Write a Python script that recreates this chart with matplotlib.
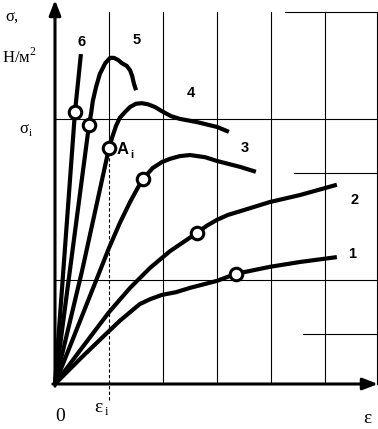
import numpy as np
import matplotlib.pyplot as plt

plt.rcParams['font.family'] = 'Liberation Serif'
plt.rcParams['mathtext.fontset'] = 'custom'
plt.rcParams['mathtext.rm'] = 'Liberation Serif'

# --- data (one grid cell = 1 unit of strain / stress) ---
c1_x = [0, 0.5, 1.0, 1.2, 1.39, 1.57, 1.76, 1.98, 2.24, 2.5, 3.0, 3.35, 3.98, 4.54, 5.22]
c1_y = [0, 0.5, 0.98, 1.17, 1.33, 1.48, 1.57, 1.65, 1.70, 1.78, 1.91, 2.04, 2.17, 2.26, 2.35]

c2_x = [0, 0.5, 1.0, 1.39, 1.76, 2.13, 2.41, 2.63, 2.81, 3.0, 3.2, 3.43, 3.98, 4.54, 5.22]
c2_y = [0, 0.67, 1.33, 1.78, 2.15, 2.46, 2.65, 2.80, 2.93, 3.04, 3.13, 3.20, 3.37, 3.50, 3.69]

c3_x = [0, 0.83, 1.0, 1.2, 1.39, 1.52, 1.63, 1.81, 1.98, 2.13, 2.31, 2.5, 2.78, 3.0, 3.43, 3.72]
c3_y = [0, 2.09, 2.52, 2.98, 3.37, 3.61, 3.80, 4.0, 4.11, 4.17, 4.22, 4.24, 4.20, 4.13, 4.02, 3.93]

c4_x = [0, 0.5, 1.0, 1.06, 1.13, 1.2, 1.30, 1.39, 1.5, 1.61, 1.72, 1.85, 2.0, 2.15, 2.31, 2.63, 3.0, 3.22]
c4_y = [0, 2.09, 4.37, 4.57, 4.78, 4.93, 5.04, 5.13, 5.19, 5.20, 5.18, 5.13, 5.04, 4.96, 4.91, 4.85, 4.76, 4.67]

c5_x = [0, 0.63, 0.67, 0.70, 0.76, 0.83, 0.93, 1.02, 1.09, 1.17, 1.24, 1.33, 1.39, 1.43, 1.46, 1.5]
c5_y = [0, 4.80, 5.02, 5.24, 5.50, 5.74, 5.94, 6.04, 6.04, 6.0, 5.94, 5.89, 5.81, 5.70, 5.57, 5.44]

c6_x = [0, 0.37, 0.48]
c6_y = [0, 5.04, 6.11]

curves = [(c1_x, c1_y), (c2_x, c2_y), (c3_x, c3_y),
          (c4_x, c4_y), (c5_x, c5_y), (c6_x, c6_y)]

# points marked by circles on each curve (1..6)
mark_x = [3.35, 2.63, 1.63, 1.0, 0.63, 0.37]
mark_y = [2.04, 2.80, 3.80, 4.37, 4.80, 5.04]

# curve numbers and where they are written
num_labels = ['1', '2', '3', '4', '5', '6']
num_x = [5.5, 5.54, 3.52, 2.52, 1.52, 0.5]
num_y = [2.41, 3.41, 4.37, 5.39, 6.37, 6.33]

# grid
grid_vx = [2, 3, 4, 5, 5.96]
grid_top = 6.89
eps_i = 1.0
sigma_i = 4.91
grid_full_h = [sigma_i, 1.93]
grid_part_h = [(6.89, 4.26), (3.91, 4.43), (0.93, 4.59)]  # (y, x start)

# --- figure: 378 x 429 px ---
fig = plt.figure(figsize=(3.78, 4.29), dpi=100)
ax = fig.add_axes([0, 0, 1, 1])
ax.set_xlim(-55 / 54, 323 / 54)
ax.set_ylim(-45 / 54, 384 / 54)
ax.axis('off')

gkw = dict(color='black', lw=0.8, zorder=1)
for gx in grid_vx:
    ax.plot([gx, gx], [0, grid_top], **gkw)
ax.plot([eps_i, eps_i], [mark_y[3], grid_top], **gkw)
ax.plot([eps_i, eps_i], [-0.3, mark_y[3]], color='black', lw=0.8,
        linestyle=(0, (3, 2)), zorder=1)
for gy in grid_full_h:
    ax.plot([0, 5.96], [gy, gy], **gkw)
for gy, gx0 in grid_part_h:
    ax.plot([gx0, 5.96], [gy, gy], **gkw)

# axes with arrows
akw = dict(arrowstyle='-|>,head_length=0.9,head_width=0.35', lw=2.2,
           color='black', shrinkA=0, shrinkB=0)
ax.annotate('', xy=(0, 384 / 54), xytext=(0, -0.04), arrowprops=akw, zorder=4)
ax.annotate('', xy=(323 / 54, 0), xytext=(-0.04, 0), arrowprops=akw, zorder=4)

for cx, cy in curves:
    ax.plot(cx, cy, color='black', lw=3.0, solid_capstyle='butt',
            solid_joinstyle='round', zorder=3)

ax.plot(mark_x, mark_y, linestyle='none', marker='o', markersize=9,
        markerfacecolor='white', markeredgecolor='black',
        markeredgewidth=2.2, zorder=5)

for t, tx, ty in zip(num_labels, num_x, num_y):
    ax.text(tx, ty, t, fontsize=10.5, fontweight='bold', family='Liberation Sans',
            ha='center', va='center')

# A_i
ax.text(1.26, 4.34, 'A', fontsize=12, fontweight='bold', family='Liberation Sans',
        ha='center', va='center')
ax.text(1.42, 4.24, 'i', fontsize=8, fontweight='bold', family='Liberation Sans',
        ha='center', va='center')

# axis texts
ax.text(-0.8, 6.78, 'σ,', fontsize=12, ha='center', va='center')
ax.text(-0.66, 6.05, r'Н/м$^{\mathrm{2}}$', fontsize=12, ha='center', va='center')
ax.text(-0.58, 4.72, 'σ', fontsize=12, ha='center', va='center')
ax.text(-0.46, 4.64, 'i', fontsize=8, ha='center', va='center')
ax.text(0.09, -0.6, '0', fontsize=14, ha='center', va='center')
ax.text(0.8, -0.44, 'ε', fontsize=14, ha='center', va='center')
ax.text(0.95, -0.52, 'i', fontsize=9, ha='center', va='center')
ax.text(5.78, -0.63, 'ε', fontsize=14, ha='center', va='center')

fig.savefig('out.png', dpi=100)
